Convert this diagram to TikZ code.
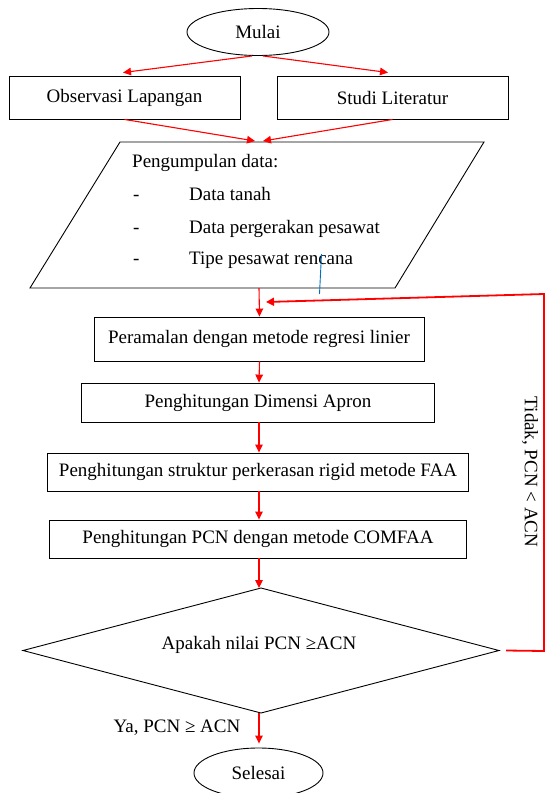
\documentclass[tikz,border=0pt]{standalone}
\usepackage{fontspec}
\setmainfont{Liberation Serif}
\usetikzlibrary{shapes.geometric,arrows.meta}

\begin{document}
\begin{tikzpicture}[x=1pt, y=-1pt,
  txt/.style={font=\fontsize{19}{22}\selectfont, inner sep=0pt},
  box/.style={draw, line width=0.9pt, txt},
  panah/.style={draw=red, line width=1.1pt, -{Triangle[length=8pt,width=7.5pt]}}]
  \useasboundingbox (0,0) rectangle (545,793);

  \node[box, ellipse, minimum width=142, minimum height=47] (mulai) at (258,32) {Mulai};
  \node[box, minimum width=231, minimum height=43] (obs) at (124.5,97.5) {Observasi Lapangan};
  \node[box, minimum width=231, minimum height=43] (studi) at (392.5,97.5) {Studi Literatur};

  \draw[panah] ([xshift=-6pt]mulai.south) to ([xshift=-1.5pt,yshift=3pt]obs.north);
  \draw[panah] ([xshift=5pt]mulai.south) to ([xshift=-4.5pt,yshift=3pt]studi.north);

  % pengumpulan data
  \draw[line width=0.9pt] (120,142) -- (484,142) -- (395,288) -- (30,288) -- cycle;
  \coordinate (dinL) at (255,141);
  \coordinate (dinR) at (263,141);
  \coordinate (dbot) at (259,288);
  \node[txt, anchor=base west] (dj) at (132,167) {Pengumpulan data:};
  \node[txt, anchor=base west] (d1) at (133,200) {-};
  \node[txt, anchor=base west] (d2) at (133,233) {-};
  \node[txt, anchor=base west] (d3) at (133,264) {-};
  \node[txt, anchor=base west] (i1) at (189,200) {Data tanah};
  \node[txt, anchor=base west] (i2) at (189,233) {Data pergerakan pesawat};
  \node[txt, anchor=base west] (i3) at (189,264) {Tipe pesawat rencana};
  \draw[color={rgb,255:red,0;green,112;blue,192}, line width=0.9pt] (321.5,254) -- (319.5,294);

  \draw[panah] (obs.south) to (dinL);
  \draw[panah] (studi.south) to (dinR);

  \node[box, minimum width=330, minimum height=44] (ramal) at (259,339) {Peramalan dengan metode regresi linier};
  \node[box, minimum width=353, minimum height=39] (apron) at (258,402.5) {Penghitungan Dimensi Apron};
  \node[box, minimum width=421, minimum height=38] (faa) at (258,472) {Penghitungan struktur perkerasan rigid metode FAA};
  \node[box, minimum width=417, minimum height=38] (pcn) at (258,539) {Penghitungan PCN dengan metode COMFAA};
  \node[box, diamond, minimum width=476, minimum height=125, outer sep=0pt] (cek) at (261,650.5) {};
  \node[txt] (cekt) at (259,645) {Apakah nilai PCN ≥ACN};
  \node[box, ellipse, minimum width=129, minimum height=50] (selesai) at (258.5,773) {Selesai};

  \draw[panah] (dbot) to ([xshift=0.5pt]ramal.north);
  \draw[panah] ([xshift=0.5pt]ramal.south) to ([xshift=1pt]apron.north);
  \draw[panah] ([xshift=1pt]apron.south) to ([xshift=1pt]faa.north);
  \draw[panah] ([xshift=1pt]faa.south) to ([xshift=1pt]pcn.north);
  \draw[panah] ([xshift=1pt]pcn.south) to ([xshift=-2pt]cek.north);
  \draw[panah] ([xshift=-2pt]cek.south) to ([xshift=0.5pt,yshift=4pt]selesai.north);

  \node[txt, anchor=base] (ya) at (177,732) {Ya, PCN ≥ ACN};

  % kembali
  \coordinate (k1) at (544,651);
  \coordinate (k2) at (544,294);
  \coordinate (k3) at (266,302);
  \draw[draw=red, line width=1.8pt, -{Triangle[length=8pt,width=8pt]}] ([xshift=7pt]cek.east) -- (k1) -- (k2) -- (k3);
  \node[txt, rotate=-90] (tidak) at (530,472) {Tidak, PCN < ACN};
\end{tikzpicture}
\end{document}
